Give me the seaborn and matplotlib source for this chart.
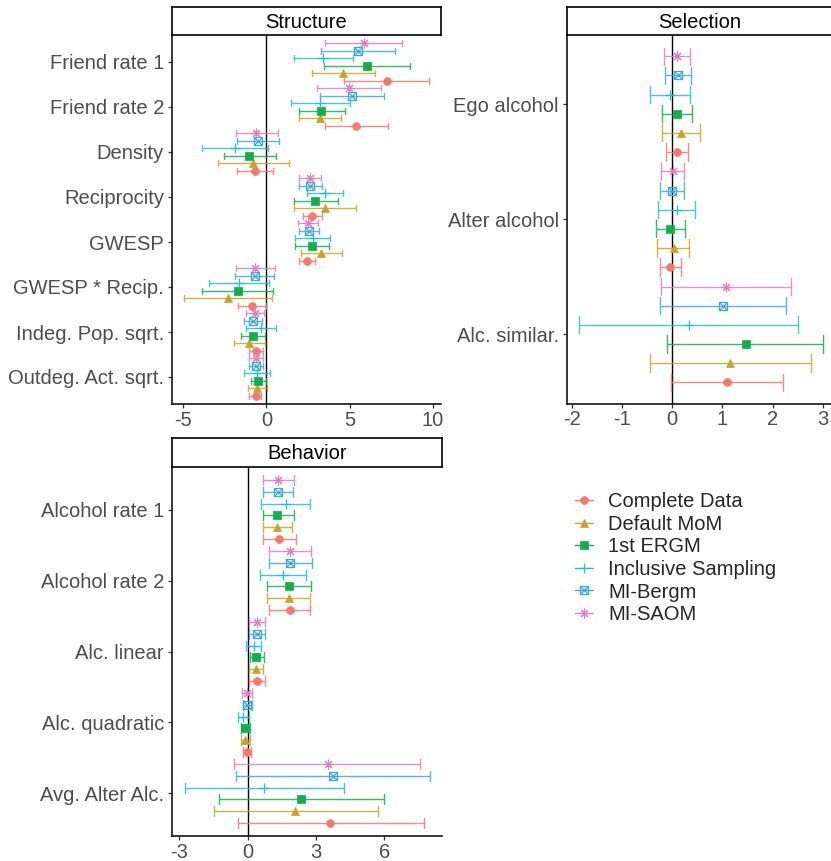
import numpy as np
import pandas as pd
import matplotlib
matplotlib.use("Agg")
import matplotlib.pyplot as plt
from matplotlib.path import Path
from matplotlib.lines import Line2D
import seaborn as sns

# ---------------- data (estimate, lower, upper) ----------------
methods = ["Complete Data", "Default MoM", "1st ERGM",
           "Inclusive Sampling", "MI-Bergm", "MI-SAOM"]

structure_terms = ["Friend rate 1", "Friend rate 2", "Density", "Reciprocity",
                   "GWESP", "GWESP * Recip.", "Indeg. Pop. sqrt.", "Outdeg. Act. sqrt."]
struct_complete = [(7.24, 4.68, 9.80), (5.40, 3.52, 7.30), (-0.70, -1.80, 0.40), (2.72, 2.20, 3.32),
                   (2.42, 1.98, 2.92), (-0.86, -1.74, 0.00), (-0.64, -1.04, -0.18), (-0.64, -1.04, -0.30)]
struct_mom = [(4.62, 2.72, 6.56), (3.22, 1.96, 4.48), (-0.82, -2.94, 1.34), (3.52, 1.66, 5.40),
              (3.30, 2.10, 4.54), (-2.32, -4.94, 0.34), (-1.04, -1.94, -0.10), (-0.54, -1.10, 0.06)]
struct_ergm = [(6.04, 3.48, 8.64), (3.30, 1.96, 4.72), (-1.04, -2.56, 0.58), (2.94, 1.66, 4.30),
               (2.72, 1.74, 3.76), (-1.74, -3.90, 0.42), (-0.82, -1.52, -0.06), (-0.52, -0.92, -0.02)]
struct_incl = [(3.42, 1.68, 5.22), (3.20, 1.46, 5.00), (-1.88, -3.90, 0.12), (3.54, 2.42, 4.60),
               (2.80, 1.74, 3.84), (-1.64, -3.48, 0.18), (-0.30, -1.22, 0.60), (-0.56, -1.34, 0.22)]
struct_bergm = [(5.48, 3.26, 7.74), (5.12, 3.20, 7.08), (-0.50, -1.80, 0.76), (2.64, 1.96, 3.32),
                (2.54, 1.96, 3.16), (-0.70, -1.92, 0.48), (-0.78, -1.34, -0.24), (-0.60, -1.04, -0.18)]
struct_saom = [(5.84, 3.54, 8.14), (4.96, 3.06, 6.92), (-0.60, -1.86, 0.70), (2.60, 1.96, 3.26),
               (2.48, 1.90, 3.08), (-0.66, -1.86, 0.54), (-0.70, -1.22, -0.16), (-0.62, -1.04, -0.18)]

selection_terms = ["Ego alcohol", "Alter alcohol", "Alc. similar."]
sel_complete = [(0.09, -0.12, 0.32), (-0.05, -0.24, 0.17), (1.09, -0.03, 2.20)]
sel_mom = [(0.17, -0.20, 0.56), (0.03, -0.30, 0.34), (1.14, -0.44, 2.76)]
sel_ergm = [(0.09, -0.20, 0.40), (-0.04, -0.32, 0.25), (1.46, -0.10, 3.01)]
sel_incl = [(-0.04, -0.44, 0.36), (0.09, -0.29, 0.46), (0.33, -1.86, 2.51)]
sel_bergm = [(0.11, -0.14, 0.38), (0.00, -0.24, 0.23), (1.02, -0.24, 2.27)]
sel_saom = [(0.10, -0.16, 0.36), (0.01, -0.22, 0.23), (1.07, -0.22, 2.36)]

behavior_terms = ["Alcohol rate 1", "Alcohol rate 2", "Alc. linear", "Alc. quadratic", "Avg. Alter Alc."]
beh_complete = [(1.37, 0.65, 2.10), (1.84, 0.94, 2.74), (0.40, 0.07, 0.74), (-0.02, -0.22, 0.14), (3.62, -0.44, 7.74)]
beh_mom = [(1.28, 0.65, 1.94), (1.79, 0.86, 2.74), (0.36, 0.05, 0.67), (-0.11, -0.28, 0.10), (2.08, -1.47, 5.71)]
beh_ergm = [(1.28, 0.65, 2.01), (1.79, 0.86, 2.79), (0.36, 0.11, 0.71), (-0.14, -0.28, 0.10), (2.35, -1.25, 6.00)]
beh_incl = [(1.68, 0.57, 2.73), (1.56, 0.52, 2.57), (0.27, -0.07, 0.58), (-0.20, -0.44, 0.07), (0.71, -2.77, 4.23)]
beh_bergm = [(1.31, 0.65, 1.97), (1.86, 0.92, 2.82), (0.42, 0.05, 0.74), (-0.05, -0.22, 0.18), (3.74, -0.53, 7.99)]
beh_saom = [(1.31, 0.65, 2.01), (1.85, 0.92, 2.79), (0.39, 0.05, 0.74), (-0.04, -0.25, 0.18), (3.52, -0.59, 7.55)]

x_ticks_structure = [-5, 0, 5, 10]
x_ticks_selection = [-2, -1, 0, 1, 2, 3]
x_ticks_behavior = [-3, 0, 3, 6]

# ---------------- style ----------------
sns.set_theme(style="white")
plt.rcParams["font.family"] = ["Liberation Sans", "DejaVu Sans"]

colors = {"Complete Data": "#F8766D", "Default MoM": "#C9A227", "1st ERGM": "#0DB04B",
          "Inclusive Sampling": "#1FC0C8", "MI-Bergm": "#3AA8E2", "MI-SAOM": "#DD7FC1"}

boxx = Path([(-1, -1), (1, -1), (1, 1), (-1, 1), (-1, -1), (-1, -1), (1, 1), (-1, 1), (1, -1)],
            [Path.MOVETO, Path.LINETO, Path.LINETO, Path.LINETO, Path.CLOSEPOLY,
             Path.MOVETO, Path.LINETO, Path.MOVETO, Path.LINETO])
marker_style = {
    "Complete Data": dict(marker="o", ms=5.6, mfc=None, mew=0.5),
    "Default MoM": dict(marker="^", ms=6.0, mfc=None, mew=0.5),
    "1st ERGM": dict(marker="s", ms=5.2, mfc=None, mew=0.5),
    "Inclusive Sampling": dict(marker="+", ms=6.5, mfc=None, mew=0.9),
    "MI-Bergm": dict(marker=boxx, ms=5.8, mfc="none", mew=0.9),
    "MI-SAOM": dict(marker=(8, 2, 0), ms=7.0, mfc=None, mew=0.8),
}

hue_order = methods[::-1]  # top of each group = MI-SAOM
TICK_COL = "#4D4D4D"
FS = 14.5


def long_df(terms, series):
    rows = []
    for m, vals in zip(methods, series):
        for t, (est, lo, hi) in zip(terms, vals):
            for v in (lo, est, hi):
                rows.append({"term": t, "method": m, "value": v})
    return pd.DataFrame(rows)


W, H = 831, 861
fig = plt.figure(figsize=(W / 100, H / 100), dpi=100)


def frac(left, top, right, bottom):
    return [left / W, 1 - bottom / H, (right - left) / W, (bottom - top) / H]


def panel(rect, strip_rect, title, terms, series, xlim, xticks, capsize):
    ax = fig.add_axes(frac(*rect))
    sax = fig.add_axes(frac(*strip_rect))
    df = long_df(terms, series)
    ax.axvline(0, color="black", lw=1.0, zorder=0)
    for m in methods:
        st = marker_style[m]
        kws = dict(markersize=st["ms"], markeredgewidth=st["mew"])
        if st["mfc"] is not None:
            kws["markerfacecolor"] = st["mfc"]
        sns.pointplot(data=df[df["method"] == m], x="value", y="term", hue="method",
                      order=terms, hue_order=hue_order, palette=colors,
                      estimator="median", errorbar=("pi", 100), dodge=0.83,
                      markers=st["marker"], linestyles="none", capsize=capsize,
                      err_kws={"linewidth": 1.0, "alpha": 0.85}, orient="h",
                      legend=False, ax=ax, **kws)
    n = len(terms)
    ax.set_ylim(n - 0.4, -0.6)
    ax.set_xlim(*xlim)
    ax.set_xticks(xticks)
    ax.set_xticklabels([str(t) for t in xticks])
    ax.set_xlabel("")
    ax.set_ylabel("")
    for s in ["top", "right"]:
        ax.spines[s].set_visible(False)
    for s in ["left", "bottom"]:
        ax.spines[s].set_color("black")
        ax.spines[s].set_linewidth(1.1)
    ax.tick_params(axis="both", which="major", length=3.2, width=0.9, color="#333333",
                   labelcolor=TICK_COL, labelsize=FS, left=True, bottom=True)
    ax.tick_params(axis="x", pad=1.5)
    ax.tick_params(axis="y", pad=2.5)
    ax.grid(False)
    ax.set_facecolor("white")
    sax.set_xticks([])
    sax.set_yticks([])
    sax.set_facecolor("white")
    for s in sax.spines.values():
        s.set_color("black")
        s.set_linewidth(1.2)
    sax.text(0.5, 0.45, title, ha="center", va="center", fontsize=FS, color="black",
             transform=sax.transAxes)
    return ax


panel((172, 35, 441, 404), (172, 7, 441, 35), "Structure", structure_terms,
      [struct_complete, struct_mom, struct_ergm, struct_incl, struct_bergm, struct_saom],
      (-5.68, 10.5), x_ticks_structure, 0.13)
panel((566.7, 35, 831, 403.5), (566.7, 7, 832, 35), "Selection", selection_terms,
      [sel_complete, sel_mom, sel_ergm, sel_incl, sel_bergm, sel_saom],
      (-2.1, 3.16), x_ticks_selection, 0.15)
panel((172, 467, 441.5, 836), (172, 438, 441.5, 467), "Behavior", behavior_terms,
      [beh_complete, beh_mom, beh_ergm, beh_incl, beh_bergm, beh_saom],
      (-3.32, 8.5), x_ticks_behavior, 0.14)

handles = []
for m in methods:
    st = marker_style[m]
    h = Line2D([0], [0], color=colors[m], lw=1.0, marker=st["marker"],
               markersize=st["ms"], markeredgewidth=st["mew"],
               markerfacecolor=(st["mfc"] if st["mfc"] is not None else colors[m]))
    handles.append(h)
fig.legend(handles, methods, loc="upper left", bbox_to_anchor=(575 / W, 1 - 492 / H),
           frameon=False, fontsize=FS, handlelength=0.9, handletextpad=0.75,
           labelspacing=0.18, borderpad=0, borderaxespad=0)

fig.savefig("out.png", dpi=100, facecolor="white")
